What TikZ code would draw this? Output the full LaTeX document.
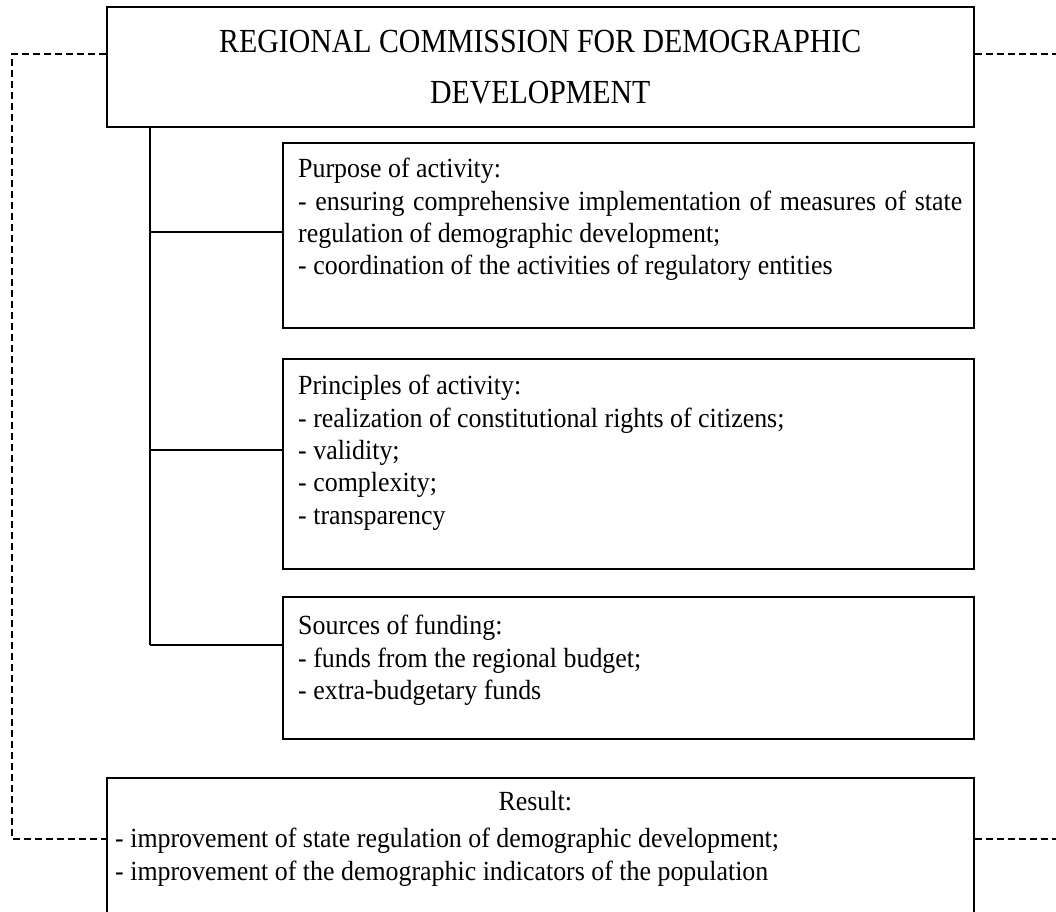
\documentclass[tikz,border=0pt]{standalone}
\usepackage{fontspec}
\setmainfont{Liberation Serif}
\newfontfamily\headfont{Liberation Serif}[FakeStretch=0.885]
\newfontfamily\bodyfont{Liberation Serif}[FakeStretch=0.935]
\usetikzlibrary{calc}
\begin{document}
\begin{tikzpicture}[x=1pt,y=-1pt,
  box/.style={draw, line width=1.6pt, rectangle, inner sep=0pt, anchor=north west},
  headtext/.style={font=\headfont\fontsize{33.7}{51}\selectfont, align=center},
  body/.style={font=\bodyfont\fontsize{27.7}{32.4}\selectfont, align=left, inner sep=0pt, anchor=north west},
  link/.style={line width=1.6pt},
  feedback/.style={line width=2.4pt, dash pattern=on 7pt off 4pt}]
\path[use as bounding box] (0,0) rectangle (1056,911);
\clip (0,0) rectangle (1056,911);

% commission header
\node[box, headtext, minimum width=867, minimum height=120] (head) at (106,6)
  {REGIONAL COMMISSION FOR DEMOGRAPHIC\\DEVELOPMENT};

% three description boxes
\node[box, minimum width=691, minimum height=185] (purpose) at (282,142) {};
\node[box, minimum width=691, minimum height=210] (principles) at (282,358) {};
\node[box, minimum width=691, minimum height=142] (funding) at (282,596) {};

\node[body] (purposetext) at ($(purpose.north west)+(16,16)$)
  {Purpose of activity:\\
   \makebox[664pt][s]{- ensuring comprehensive implementation of measures of state}\\
   regulation of demographic development;\\
   - coordination of the activities of regulatory entities};
\node[body] (principlestext) at ($(principles.north west)+(16,17)$)
  {Principles of activity:\\
   - realization of constitutional rights of citizens;\\
   - validity;\\
   - complexity;\\
   - transparency};
\node[body] (fundingtext) at ($(funding.north west)+(16,19)$)
  {Sources of funding:\\
   - funds from the regional budget;\\
   - extra-budgetary funds};

% result box (runs past the lower edge)
\node[box, minimum width=867, minimum height=160] (result) at (106,777) {};
\node[body, anchor=north, align=center] (resulttitle) at ($(result.north)+(-5,14)$) {Result:};
\node[body] (resulttext) at ($(result.north west)+(9,51)$)
  {- improvement of state regulation of demographic development;\\
   - improvement of the demographic indicators of the population};

% tree connectors
\coordinate (trunk) at (150,126);
\coordinate (j1) at (150,232);
\coordinate (j2) at (150,450);
\coordinate (j3) at (150,645);
\draw[link] (trunk) -- (j3);
\draw[link] (j1) -- (j1 -| purpose.west);
\draw[link] (j2) -- (j2 -| principles.west);
\draw[link] (j3) -- (j3 -| funding.west);

% dashed feedback loops
\coordinate (hl) at (head.west |- 0,54);
\coordinate (hr) at (head.east |- 0,54);
\coordinate (rl) at (result.west |- 0,839);
\coordinate (rr) at (result.east |- 0,839);
\coordinate (cornerA) at (12,54);
\coordinate (cornerB) at (12,839);
\coordinate (edgeA) at (1060,54);
\coordinate (edgeB) at (1060,839);
\draw[feedback] (hl) -- (cornerA) -- (cornerB) -- (rl);
\draw[feedback] (hr) -- (edgeA);
\draw[feedback] (rr) -- (edgeB);
\end{tikzpicture}
\end{document}
